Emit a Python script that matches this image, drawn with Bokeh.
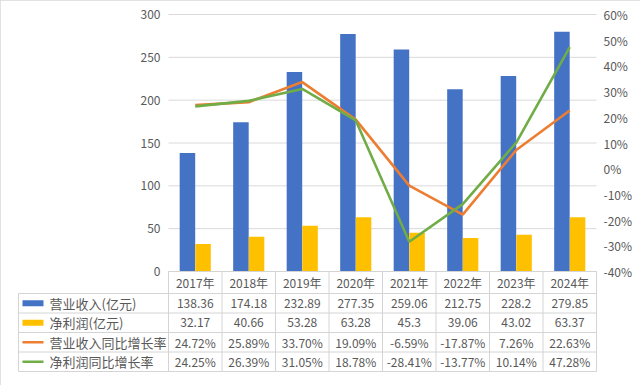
from bokeh.plotting import figure
from bokeh.models import Range1d, LinearAxis, FixedTicker, PrintfTickFormatter, InlineStyleSheet
from bokeh.core.properties import value
from bokeh.embed import file_html
from bokeh.resources import INLINE

years = ["2017年", "2018年", "2019年", "2020年", "2021年", "2022年", "2023年", "2024年"]
revenue = [138.36, 174.18, 232.89, 277.35, 259.06, 212.75, 228.2, 279.85]
profit = [32.17, 40.66, 53.28, 63.28, 45.3, 39.06, 43.02, 63.37]
rev_growth = [24.72, 25.89, 33.70, 19.09, -6.59, -17.87, 7.26, 22.63]
profit_growth = [24.25, 26.39, 31.05, 18.78, -28.41, -13.77, 10.14, 47.28]
left_ticks = [0, 50, 100, 150, 200, 250, 300]
right_ticks = [-40, -30, -20, -10, 0, 10, 20, 30, 40, 50, 60]
series_names = ["营业收入(亿元)", "净利润(亿元)", "营业收入同比增长率", "净利润同比增长率"]

BLUE = "#4472C4"
GOLD = "#FFC000"
ORANGE = "#ED7D31"
GREEN = "#70AD47"
TXT = "#595959"
GRID = "#D9D9D9"
TBL = "#D4D4D4"
FONT = "Noto Sans CJK SC"

# ---- layout constants (page pixels) ----
W, H, M = 640, 385, 0
PLOT_TOP, ZERO, TABLE_BOTTOM = 14, 271, 371
LEFT, CAT_LEFT, CAT_RIGHT = 18, 168, 596
ROW_H = 19.5
PAD = 2

n = len(years)
idx = list(range(1, n + 1))
bounds = [i - 0.5 for i in range(1, n + 2)]

ppc = (CAT_RIGHT - CAT_LEFT) / n           # px per category
def xd(px):
    return 0.5 + (px - CAT_LEFT) / ppc

ppu = (ZERO - PLOT_TOP) / (left_ticks[-1] - left_ticks[0])
ppp = (ZERO - PLOT_TOP) / (right_ticks[-1] - right_ticks[0])
def rows(px):
    return (TABLE_BOTTOM - px) / ROW_H

fx0, fx1 = LEFT - PAD, CAT_RIGHT + PAD
fy0, fy1 = PLOT_TOP - PAD, TABLE_BOTTOM + PAD

x_range = Range1d(xd(fx0), xd(fx1))
y_range = Range1d(-(fy1 - ZERO) / ppu, left_ticks[-1] + PAD / ppu)

p = figure(width=W, height=H, x_range=x_range, y_range=y_range,
           x_axis_location=None, output_backend="svg", toolbar_location=None,
           min_border_left=fx0 - M, min_border_right=W + M - fx1,
           min_border_top=fy0 - M, min_border_bottom=H + M - fy1)
p.outline_line_color = None
p.background_fill_color = "white"
p.border_fill_color = "white"
p.stylesheets = [InlineStyleSheet(css=":host { outline: 1px solid #D9D9D9; outline-offset: -1px; }")]
p.xgrid.visible = False
p.ygrid.visible = False
p.extra_y_ranges = {
    "pct": Range1d(right_ticks[0] - (fy1 - ZERO) / ppp, right_ticks[-1] + PAD / ppp),
    "rows": Range1d(rows(fy1), rows(fy0)),
}

# chart gridlines
p.segment(x0=[bounds[0]] * len(left_ticks), x1=[bounds[-1]] * len(left_ticks),
          y0=left_ticks, y1=left_ticks, line_color=GRID, line_width=1)

# bars and lines
p.vbar(x=[i - 0.146 for i in idx], top=revenue, width=0.29, fill_color=BLUE, line_color=None)
p.vbar(x=[i + 0.146 for i in idx], top=profit, width=0.29, fill_color=GOLD, line_color=None)
p.line(idx, rev_growth, y_range_name="pct", line_color=ORANGE, line_width=2.6)
p.line(idx, profit_growth, y_range_name="pct", line_color=GREEN, line_width=2.6)

# left axis (labels pulled right, next to the chart area)
ya = p.yaxis[0]
ya.ticker = FixedTicker(ticks=left_ticks)
ya.axis_line_color = None
ya.major_tick_line_color = None
ya.major_tick_out = 0
ya.major_tick_in = 0
ya.minor_tick_line_color = None
ya.major_label_text_font = FONT
ya.major_label_text_font_size = "12px"
ya.major_label_text_color = TXT
ya.major_label_standoff = -(160 - fx0)

ra = LinearAxis(y_range_name="pct", ticker=FixedTicker(ticks=right_ticks),
                formatter=PrintfTickFormatter(format="%d%%"))
ra.axis_line_color = None
ra.major_tick_line_color = None
ra.major_tick_out = 0
ra.major_tick_in = 0
ra.minor_tick_line_color = None
ra.major_label_text_font = FONT
ra.major_label_text_font_size = "12px"
ra.major_label_text_color = TXT
ra.major_label_standoff = 5
p.add_layout(ra, "right")

# ---- data table ----
n_rows = len(series_names)
header_top = rows(ZERO)
tx0 = xd(LEFT)
# horizontal borders
p.segment(x0=[tx0] * (n_rows + 1), x1=[bounds[-1]] * (n_rows + 1),
          y0=list(range(n_rows + 1)), y1=list(range(n_rows + 1)),
          y_range_name="rows", line_color=TBL, line_width=1)
p.segment(x0=[bounds[0]], x1=[bounds[-1]], y0=[header_top], y1=[header_top],
          y_range_name="rows", line_color=TBL, line_width=1)
# vertical borders
p.segment(x0=bounds, x1=bounds, y0=[0] * len(bounds), y1=[header_top] * len(bounds),
          y_range_name="rows", line_color=TBL, line_width=1)
p.segment(x0=[tx0], x1=[tx0], y0=[0], y1=[n_rows], y_range_name="rows",
          line_color=TBL, line_width=1)

# header
header_y = (n_rows + header_top) / 2
p.text(x=idx, y=[header_y] * n, text=years, y_range_name="rows",
       text_align="center", text_baseline="middle",
       text_font=value(FONT), text_font_size="12px", text_color=TXT)

row_vals = [[f"{v:g}" for v in revenue],
            [f"{v:g}" for v in profit],
            [f"{v:.2f}%" for v in rev_growth],
            [f"{v:.2f}%" for v in profit_growth]]
row_y = [n_rows - r - 0.5 for r in range(n_rows)]
xs, ys, ts = [], [], []
for vals, yv in zip(row_vals, row_y):
    for i, t in zip(idx, vals):
        xs.append(i)
        ys.append(yv)
        ts.append(t)
p.text(x=xs, y=ys, text=ts, y_range_name="rows", text_align="center", text_baseline="middle",
       text_font=value(FONT), text_font_size="12px", text_color=TXT)

p.text(x=[xd(49)] * n_rows, y=row_y, text=series_names, y_range_name="rows",
       text_align="left", text_baseline="middle",
       text_font=value(FONT), text_font_size="13px", text_color=TXT)

p.rect(x=[xd(32.5)] * 2, y=row_y[:2], width=21, height=6, width_units="screen",
       height_units="screen", fill_color=[BLUE, GOLD], line_color=None, y_range_name="rows")
p.segment(x0=[xd(22)] * 2, y0=row_y[2:], x1=[xd(43)] * 2, y1=row_y[2:],
          line_color=[ORANGE, GREEN], line_width=2.6, y_range_name="rows")

open("out.html", "w").write(file_html(p, INLINE))
